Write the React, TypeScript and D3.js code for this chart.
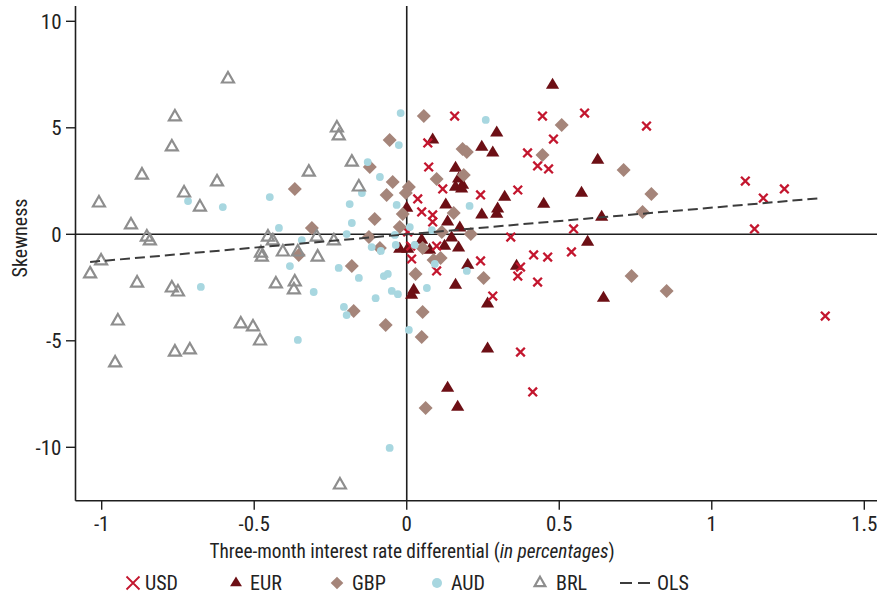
import React from "react";
import * as d3 from "d3";

// ---------- data ----------
const usdX = [0.157,0.445,0.583,0.786,0.069,0.072,0.396,0.481,0.429,0.465,0.118,0.242,0.364,0.036,0.049,0.085,0.085,0.003,0.341,0.547,0.098,0.013,0.016,0.098,0.242,0.416,0.462,0.540,0.373,0.364,0.429,0.282,0.373,0.413,1.110,1.238,1.169,1.140,1.372];
const usdY = [5.55,5.55,5.69,5.08,4.29,3.16,3.82,4.47,3.21,3.07,2.13,1.85,2.08,1.66,1.05,0.91,0.58,0.11,-0.13,0.25,-0.55,-0.55,-1.16,-1.72,-1.25,-0.97,-1.07,-0.83,-1.54,-1.96,-2.24,-2.90,-5.53,-7.40,2.50,2.13,1.70,0.25,-3.84];

const eurX = [0.478,0.085,0.295,0.246,0.282,0.160,0.626,0.170,0.183,0.160,0.180,0.321,0.573,0.128,0.449,0.298,0.295,0.246,0.000,0.134,0.174,0.049,0.147,0.124,0.170,-0.023,0.003,0.075,0.200,0.360,0.639,0.593,0.160,0.023,0.016,0.265,0.645,0.265,0.134,0.167];
const eurY = [7.01,4.43,4.76,4.10,3.82,3.11,3.49,2.60,2.31,2.22,2.13,1.75,1.94,1.38,1.42,1.19,0.95,0.91,1.23,0.58,0.30,-0.27,-0.17,-0.55,-0.64,-0.69,-0.69,-0.74,-1.44,-1.49,0.81,-0.36,-2.38,-2.62,-2.85,-3.27,-2.99,-5.38,-7.22,-8.11];

const gbpX = [0.056,-0.056,0.183,0.197,0.445,0.508,-0.121,0.098,0.187,-0.046,0.007,-0.003,-0.066,-0.367,-0.013,-0.105,0.154,-0.311,-0.023,-0.124,-0.088,0.115,0.210,0.052,0.111,0.088,-0.180,0.029,0.252,-0.354,-0.174,-0.069,0.052,0.049,0.062,0.711,0.802,0.773,0.737,0.852];
const gbpY = [5.55,4.43,4.00,3.86,3.72,5.13,3.16,2.60,2.78,2.46,2.22,1.94,1.85,2.13,0.95,0.72,1.00,0.30,0.34,-0.13,-0.64,0.11,0.01,-0.64,-1.11,-1.21,-1.49,-1.86,-2.05,-0.97,-3.60,-4.26,-3.65,-4.82,-8.15,3.02,1.89,1.05,-1.96,-2.66];

const audX = [-0.020,0.259,-0.026,-0.128,-0.088,-0.147,-0.187,-0.033,0.206,-0.180,-0.197,0.010,0.082,-0.039,-0.344,-0.115,-0.085,-0.036,-0.223,-0.157,-0.075,-0.062,0.092,0.197,-0.305,-0.049,-0.029,0.066,-0.102,-0.206,-0.197,0.007,-0.603,-0.419,-0.383,-0.357,-0.717,-0.675,-0.449,-0.056,0.026];
const audY = [5.69,5.37,4.19,3.39,2.69,1.94,1.42,1.38,1.33,0.53,0.01,0.34,0.20,-0.03,-0.27,-0.60,-0.78,-0.50,-1.58,-2.05,-1.96,-1.86,-1.39,-1.72,-2.71,-2.66,-2.81,-2.52,-3.00,-3.41,-3.79,-4.49,1.28,0.30,-1.49,-4.96,1.56,-2.47,1.75,-10.03,-0.50];

const brlX = [-0.586,-0.760,-0.770,-0.868,-1.009,-0.730,-0.678,-0.622,-0.904,-0.852,-0.842,-0.455,-0.439,-1.038,-1.002,-0.884,-0.770,-0.750,-0.947,-0.956,-0.760,-0.711,-0.544,-0.504,-0.481,-0.478,-0.475,-0.429,-0.367,-0.370,-0.406,-0.357,-0.295,-0.239,-0.292,-0.229,-0.223,-0.180,-0.321,-0.157,-0.219];
const brlY = [7.29,5.51,4.10,2.78,1.47,1.94,1.28,2.46,0.44,-0.13,-0.31,-0.13,-0.31,-1.86,-1.25,-2.29,-2.52,-2.71,-4.07,-6.04,-5.53,-5.43,-4.21,-4.35,-5.01,-0.88,-1.07,-2.33,-2.24,-2.61,-0.83,-0.83,-0.13,-0.31,-1.07,4.99,4.62,3.39,2.92,2.22,-11.77];

const olsX = [-1.038, 1.359];
const olsY = [-1.30, 1.70];

const xTicks = [-1, -0.5, 0, 0.5, 1, 1.5];
const xTickLabels = ["-1", "-0.5", "0", "0.5", "1", "1.5"];
const yTicks = [10, 5, 0, -5, -10];
const yTickLabels = ["10", "5", "0", "-5", "-10"];

const legendLabels = ["USD", "EUR", "GBP", "AUD", "BRL", "OLS"];

// ---------- styles ----------
const W = 877, H = 595;
const FONT = "'Liberation Sans Narrow', 'Arial Narrow', 'Roboto Condensed', 'Liberation Sans', sans-serif";
const C_USD = "#c3162e";
const C_EUR = "#6d0f15";
const C_GBP = "#a5857a";
const C_AUD = "#a8d7e0";
const C_BRL = "#8e8e8e";
const C_AXIS = "#1e1e1e";

const left = 75.5, bottom = 500.7, top = 6, right = W;

const x = d3.scaleLinear().domain([-1, 1.5]).range([101.7, 864.3]);
const y = d3.scaleLinear().domain([-10, 10]).range([447.3, 21.3]);

const zip = (a: number[], b: number[]) => a.map((v, i) => [v, b[i]] as [number, number]);

const triPath = (w: number, h: number) => `M0,${-2 * h / 3}L${w},${h / 3}L${-w},${h / 3}Z`;
const diaPath = (r: number) => `M0,${-r}L${r},0L0,${r}L${-r},0Z`;
const xPath = (r: number) => `M${-r},${-r}L${r},${r}M${-r},${r}L${r},${-r}`;

function Marker({ kind, legend = false }: { kind: string; legend?: boolean }) {
  const s = legend ? 0.9 : 1;
  if (kind === "USD") return <path d={xPath(legend ? 6.5 : 4.3)} stroke={C_USD} strokeWidth={legend ? 1.8 : 2.3} fill="none" />;
  if (kind === "EUR") return <path d={triPath(6.6 * s, 11 * s)} fill={C_EUR} />;
  if (kind === "GBP") return <path d={diaPath(7 * s)} fill={C_GBP} />;
  if (kind === "AUD") return <circle r={legend ? 5 : 3.9} fill={C_AUD} />;
  if (kind === "BRL") return <path d={triPath(6 * s, 10.5 * s)} fill="none" stroke={C_BRL} strokeWidth={2.2} strokeLinejoin="miter" />;
  return null;
}

export default function App() {
  const series: [string, [number, number][]][] = [
    ["EUR", zip(eurX, eurY)],
    ["USD", zip(usdX, usdY)],
    ["GBP", zip(gbpX, gbpY)],
    ["AUD", zip(audX, audY)],
    ["BRL", zip(brlX, brlY)],
  ];
  const line = d3.line<[number, number]>().x(d => x(d[0])).y(d => y(d[1]));
  const legendSym = [133, 236, 337, 437, 540];
  const legendText = [145, 250, 352, 451, 556, 657];
  const legY = 583;

  return (
    <svg width={W} height={H} style={{ position: "absolute", left: 0, top: 0, background: "#fff" }} fontFamily={FONT}>
      <rect width={W} height={H} fill="#fff" />
      {/* zero lines */}
      <line x1={left} x2={right} y1={y(0)} y2={y(0)} stroke={C_AXIS} strokeWidth={1.6} />
      <line x1={x(0)} x2={x(0)} y1={top} y2={bottom} stroke={C_AXIS} strokeWidth={1.6} />
      {/* markers */}
      {series.map(([k, pts]) => (
        <g key={k}>
          {pts.map((p, i) => (
            <g key={i} transform={`translate(${x(p[0])},${y(p[1])})`}>
              <Marker kind={k} />
            </g>
          ))}
        </g>
      ))}
      {/* OLS */}
      <path d={line(zip(olsX, olsY)) || ""} stroke="#3c3c3c" strokeWidth={2} strokeDasharray="10,5" fill="none" />
      {/* axes */}
      <line x1={left} x2={left} y1={top} y2={bottom} stroke={C_AXIS} strokeWidth={1.6} />
      <line x1={left} x2={right} y1={bottom} y2={bottom} stroke={C_AXIS} strokeWidth={1.6} />
      {xTicks.map((t, i) => (
        <g key={i}>
          <line x1={x(t)} x2={x(t)} y1={bottom} y2={bottom + 9} stroke={C_AXIS} strokeWidth={1.4} />
          <text x={x(t)} y={bottom + 30} textAnchor="middle" fontSize={21} fill="#222">{xTickLabels[i]}</text>
        </g>
      ))}
      {yTicks.map((t, i) => (
        <g key={i}>
          <line x1={left - 9.5} x2={left} y1={y(t)} y2={y(t)} stroke={C_AXIS} strokeWidth={1.4} />
          <text x={left - 14} y={y(t)} dy="0.35em" textAnchor="end" fontSize={21} fill="#222">{yTickLabels[i]}</text>
        </g>
      ))}
      {/* axis titles */}
      <text transform={`translate(27,238) rotate(-90)`} textAnchor="middle" fontSize={20} fill="#222">Skewness</text>
      <text x={412} y={558} textAnchor="middle" fontSize={19.3} fill="#222">
        Three-month interest rate differential (<tspan fontStyle="italic">in percentages</tspan>)
      </text>
      {/* legend */}
      {legendSym.map((cx, i) => (
        <g key={i} transform={`translate(${cx},${legY})`}>
          <Marker kind={legendLabels[i]} legend />
        </g>
      ))}
      <line x1={620} x2={652} y1={legY} y2={legY} stroke="#3c3c3c" strokeWidth={2} strokeDasharray="12,6" />
      {legendText.map((tx, i) => (
        <text key={i} x={tx} y={legY} dy="0.36em" fontSize={20} fill="#222">{legendLabels[i]}</text>
      ))}
    </svg>
  );
}
